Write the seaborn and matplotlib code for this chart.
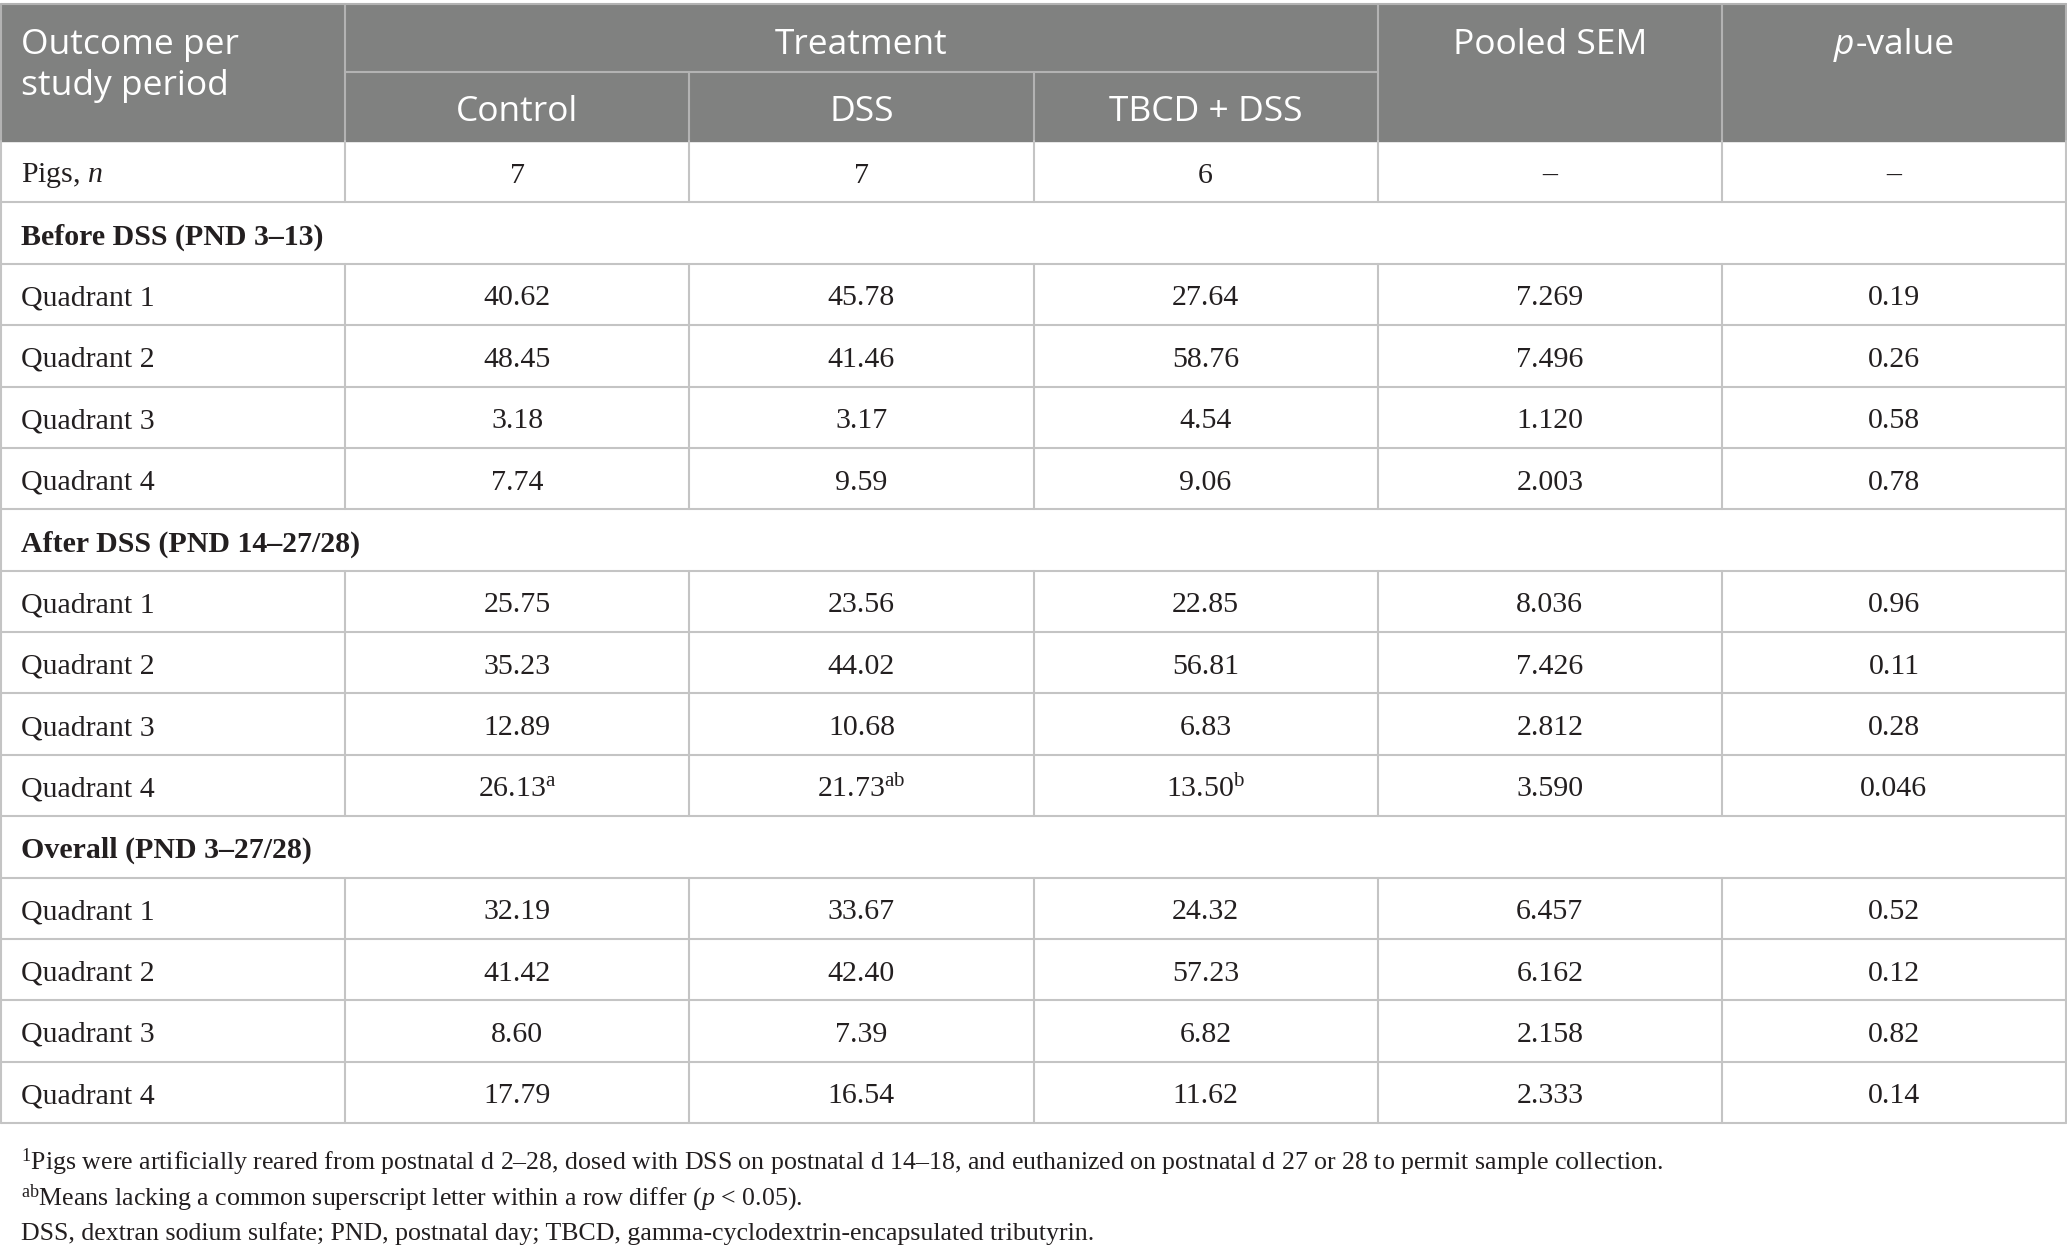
import numpy as np
import pandas as pd
import seaborn as sns
import matplotlib.pyplot as plt

# table values
treatments = ["Control", "DSS", "TBCD + DSS"]
pigs_n = [7, 7, 6]
sections = ["Before DSS (PND 3–13)", "After DSS (PND 14–27/28)", "Overall (PND 3–27/28)"]
quadrants = ["Quadrant 1", "Quadrant 2", "Quadrant 3", "Quadrant 4"]
control = [[40.62, 48.45, 3.18, 7.74], [25.75, 35.23, 12.89, 26.13], [32.19, 41.42, 8.60, 17.79]]
dss = [[45.78, 41.46, 3.17, 9.59], [23.56, 44.02, 10.68, 21.73], [33.67, 42.40, 7.39, 16.54]]
tbcd_dss = [[27.64, 58.76, 4.54, 9.06], [22.85, 56.81, 6.83, 13.50], [24.32, 57.23, 6.82, 11.62]]
pooled_sem = [[7.269, 7.496, 1.120, 2.003], [8.036, 7.426, 2.812, 3.590], [6.457, 6.162, 2.158, 2.333]]
p_values = [["0.19", "0.26", "0.58", "0.78"], ["0.96", "0.11", "0.28", "0.046"], ["0.52", "0.12", "0.82", "0.14"]]
# superscript letters: (section, quadrant) -> per treatment
letters = {(1, 3): ["a", "ab", "b"]}
footnotes = [
    r"$^{1}$Pigs were artificially reared from postnatal d 2–28, dosed with DSS on postnatal d 14–18, and euthanized on postnatal d 27 or 28 to permit sample collection.",
    r"$^{\mathrm{ab}}$Means lacking a common superscript letter within a row differ ($\mathit{p}$ < 0.05).",
    "DSS, dextran sodium sulfate; PND, postnatal day; TBCD, gamma-cyclodextrin-encapsulated tributyrin.",
]

sns.set_theme(style="white")
plt.rcParams["mathtext.fontset"] = "custom"
plt.rcParams["mathtext.rm"] = "Liberation Serif"
plt.rcParams["mathtext.it"] = "Liberation Serif:italic"
plt.rcParams["mathtext.bf"] = "Liberation Serif:bold"

# build body rows
rows = [("Pigs, $\\mathit{n}$", [str(v) for v in pigs_n] + ["–", "–"], False)]
for s, sec in enumerate(sections):
    rows.append((sec, None, True))
    for q, quad in enumerate(quadrants):
        vals = [control[s][q], dss[s][q], tbcd_dss[s][q]]
        cells = ["%.2f" % v for v in vals]
        if (s, q) in letters:
            cells = [c + "$^{\\mathrm{%s}}$" % l for c, l in zip(cells, letters[(s, q)])]
        cells += ["%.3f" % pooled_sem[s][q], p_values[s][q]]
        rows.append((quad, cells, False))
table = pd.DataFrame(rows, columns=["label", "cells", "group"])

W, H = 2067, 1259
fig = plt.figure(figsize=(W / 100, H / 100), dpi=100)
ax = fig.add_axes([0, 0, 1, 1])
ax.set_xlim(0, W)
ax.set_ylim(H, 0)
ax.axis("off")

col_edges = np.linspace(1, W - 1, 7)
col_mid = (col_edges[:-1] + col_edges[1:]) / 2
head_top, head_mid, head_bot = 4, 72, 141
body_bot = 1123
row_edges = np.linspace(head_bot, body_bot, len(table) + 1)

header_gray = "#808180"
head_line = "#b3b3b3"
grid = "#c4c4c4"
ink = "#231f20"
sans = "Open Sans"
serif = "Liberation Serif"
hs, bs = 25.5, 21.5

# header block
ax.axhspan(head_top, head_bot, color=header_gray, zorder=0)
lw = 1.5
ax.plot([col_edges[0], col_edges[-1]], [head_top, head_top], color=head_line, lw=lw)
for x in [col_edges[0], col_edges[1], col_edges[4], col_edges[5], col_edges[6]]:
    ax.plot([x, x], [head_top, head_bot], color=head_line, lw=lw)
for x in [col_edges[2], col_edges[3]]:
    ax.plot([x, x], [head_mid, head_bot], color=head_line, lw=lw)
ax.plot([col_edges[1], col_edges[4]], [head_mid, head_mid], color=head_line, lw=lw)

ya, yb, yc2 = 45, 86, 112
ax.text(21, ya, "Outcome per", color="white", fontsize=hs, family=sans, va="center", ha="left")
ax.text(21, yb, "study period", color="white", fontsize=hs, family=sans, va="center", ha="left")
ax.text((col_edges[1] + col_edges[4]) / 2, ya, "Treatment", color="white", fontsize=hs, family=sans, va="center", ha="center")
for i, t in enumerate(treatments):
    ax.text(col_mid[i + 1], yc2, t, color="white", fontsize=hs, family=sans, va="center", ha="center")
ax.text(col_mid[4], ya, "Pooled SEM", color="white", fontsize=hs, family=sans, va="center", ha="center")

# p-value header with italic p
renderer = fig.canvas.get_renderer()
tp = ax.text(0, ya, "p", color="white", fontsize=hs, family=sans, style="italic", va="center", ha="left")
tv = ax.text(0, ya, "-value", color="white", fontsize=hs, family=sans, va="center", ha="left")
wp = tp.get_window_extent(renderer).width
wv = tv.get_window_extent(renderer).width
x0 = col_mid[5] - (wp + wv) / 2
tp.set_x(x0)
tv.set_x(x0 + wp + 1)

# body
for r, row in table.iterrows():
    y0, y1 = row_edges[r], row_edges[r + 1]
    yc = (y0 + y1) / 2 + 4
    ax.plot([col_edges[0], col_edges[-1]], [y1, y1], color=grid, lw=lw)
    ax.plot([col_edges[0], col_edges[0]], [y0, y1], color=grid, lw=lw)
    ax.plot([col_edges[-1], col_edges[-1]], [y0, y1], color=grid, lw=lw)
    if row["group"]:
        ax.text(21, yc, row["label"], color=ink, fontsize=bs, family=serif, weight="bold", va="center", ha="left")
        continue
    for x in col_edges[1:-1]:
        ax.plot([x, x], [y0, y1], color=grid, lw=lw)
    ax.text(21, yc, row["label"], color=ink, fontsize=bs, family=serif, va="center", ha="left")
    for i, c in enumerate(row["cells"]):
        ax.text(col_mid[i + 1], yc, c, color=ink, fontsize=bs, family=serif, va="center", ha="center")

for k, note in enumerate(footnotes):
    ax.text(21, 1162 + 36 * k, note, color=ink, fontsize=18.6, family=serif, va="center", ha="left")

fig.savefig("out.png", dpi=100)
